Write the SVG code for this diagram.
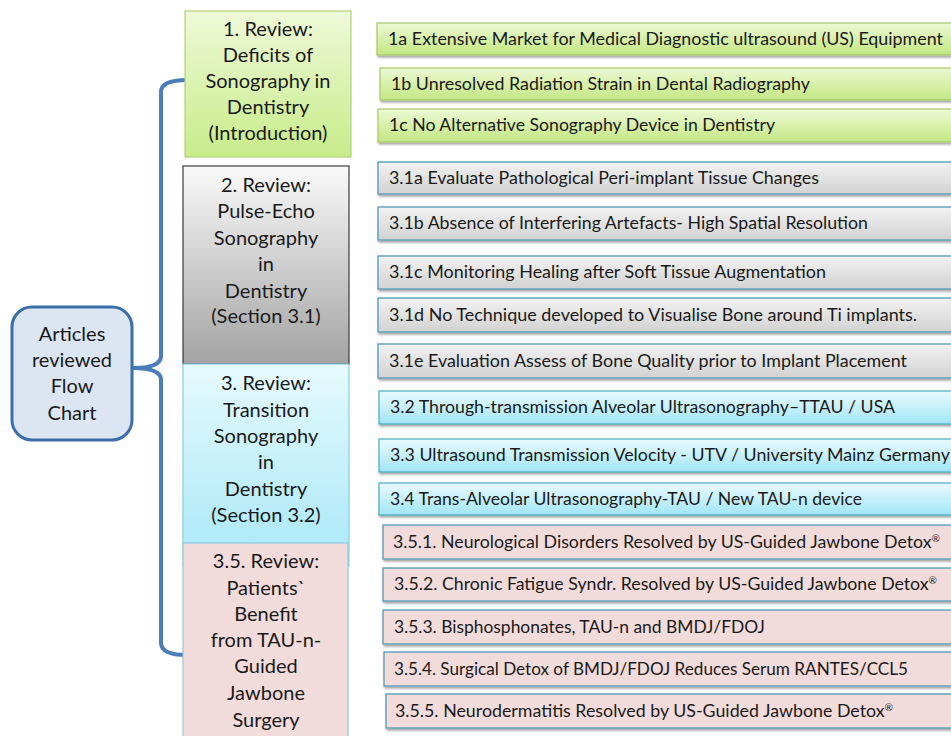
<svg xmlns="http://www.w3.org/2000/svg" width="951" height="736" viewBox="0 0 951 736">
<defs>
<linearGradient id="gGreenBig" x1="0" y1="0" x2="0" y2="1"><stop offset="0" stop-color="#eef9d8"/><stop offset="1" stop-color="#c8ec8a"/></linearGradient>
<linearGradient id="gGreen" x1="0" y1="0" x2="0" y2="1"><stop offset="0" stop-color="#edf9d5"/><stop offset="1" stop-color="#c3e782"/></linearGradient>
<linearGradient id="gGreyBig" x1="0" y1="0" x2="0" y2="1"><stop offset="0" stop-color="#fafafa"/><stop offset="1" stop-color="#a3a3a3"/></linearGradient>
<linearGradient id="gGrey" x1="0" y1="0" x2="0" y2="1"><stop offset="0" stop-color="#f2f2f2"/><stop offset="1" stop-color="#d2d2d2"/></linearGradient>
<linearGradient id="gCyanBig" x1="0" y1="0" x2="0" y2="1"><stop offset="0" stop-color="#e6fafe"/><stop offset="1" stop-color="#a8e8f8"/></linearGradient>
<linearGradient id="gCyan" x1="0" y1="0" x2="0" y2="1"><stop offset="0" stop-color="#eafbfe"/><stop offset="1" stop-color="#a2e5f6"/></linearGradient>
<filter id="sh" x="-5%" y="-20%" width="110%" height="150%"><feDropShadow dx="1" dy="2" stdDeviation="1.2" flood-color="#000" flood-opacity="0.35"/></filter>
</defs>
<style>
text{font-family:Lato,"Liberation Sans",sans-serif;fill:#1a1a1a}
.big{font-size:20px;text-anchor:middle}
.sm{font-size:17.5px}
.sup{font-size:10px}
.rg{fill:url(#gGreen);stroke:#a9c96c;stroke-width:1.2;filter:url(#sh)}
.rr{fill:url(#gGrey);stroke:#5d9fbd;stroke-width:1.4;filter:url(#sh)}
.rc{fill:url(#gCyan);stroke:#4aa8c4;stroke-width:1.2;filter:url(#sh)}
.rp{fill:#f2dcdb;stroke:#5f9fba;stroke-width:1.4;filter:url(#sh)}
</style>
<rect width="951" height="736" fill="#fff"/>

<g id="connectors">
<path d="M187,80 Q161,80 161,92 L161,356 Q161,368 133,368 Q161,368 161,380 L161,643 Q161,655 187,655" fill="none" stroke="#4a7ebb" stroke-width="4" stroke-linejoin="round"/>
</g>

<g id="root">
<rect x="12" y="307" width="120" height="133" rx="20" fill="#dce6f2" stroke="#3d6ea8" stroke-width="3"/>
<text class="big" x="72" y="341">Articles</text>
<text class="big" x="72" y="367">reviewed</text>
<text class="big" x="72" y="393">Flow</text>
<text class="big" x="72" y="420">Chart</text>
</g>

<g id="sec1">
<rect x="185" y="11" width="166" height="146" fill="url(#gGreenBig)" stroke="#b3d27c" stroke-width="1.2"/>
<text class="big" x="268" y="36">1. Review:</text>
<text class="big" x="268" y="62">Deficits of</text>
<text class="big" x="268" y="88">Sonography in</text>
<text class="big" x="268" y="114">Dentistry</text>
<text class="big" x="268" y="140">(Introduction)</text>
</g>

<g id="sec2">
<rect x="183" y="166" width="166" height="198" fill="url(#gGreyBig)" stroke="#3a3a3a" stroke-width="1.2"/>
<text class="big" x="266" y="192">2. Review:</text>
<text class="big" x="266" y="218">Pulse-Echo</text>
<text class="big" x="266" y="245">Sonography</text>
<text class="big" x="266" y="271">in</text>
<text class="big" x="266" y="298">Dentistry</text>
<text class="big" x="266" y="323">(Section 3.1)</text>
</g>

<g id="sec3">
<rect x="183" y="364" width="166" height="202" fill="url(#gCyanBig)" stroke="#86cde2" stroke-width="1.2"/>
<text class="big" x="266" y="390">3. Review:</text>
<text class="big" x="266" y="417">Transition</text>
<text class="big" x="266" y="443">Sonography</text>
<text class="big" x="266" y="469">in</text>
<text class="big" x="266" y="496">Dentistry</text>
<text class="big" x="266" y="522">(Section 3.2)</text>
</g>

<g id="sec35">
<rect x="183" y="543" width="165" height="200" fill="#f2dcdb" stroke="#8fcbe0" stroke-width="1.2"/>
<text class="big" x="266" y="568">3.5. Review:</text>
<text class="big" x="266" y="595">Patients`</text>
<text class="big" x="266" y="621">Benefit</text>
<text class="big" x="266" y="647">from TAU-n-</text>
<text class="big" x="266" y="673">Guided</text>
<text class="big" x="266" y="700">Jawbone</text>
<text class="big" x="266" y="727">Surgery</text>
</g>

<g id="n1a"><rect class="rg" x="377" y="23" width="590" height="32"/><text class="sm" x="388" y="45" textLength="555" lengthAdjust="spacingAndGlyphs">1a Extensive Market for Medical Diagnostic ultrasound (US) Equipment</text></g>
<g id="n1b"><rect class="rg" x="380" y="68" width="590" height="32"/><text class="sm" x="391" y="90" textLength="419" lengthAdjust="spacingAndGlyphs">1b Unresolved Radiation Strain in Dental Radiography</text></g>
<g id="n1c"><rect class="rg" x="378" y="109" width="590" height="33"/><text class="sm" x="389" y="131" textLength="386" lengthAdjust="spacingAndGlyphs">1c No Alternative Sonography Device in Dentistry</text></g>

<g id="n31a"><rect class="rr" x="378" y="162" width="590" height="32"/><text class="sm" x="389" y="184" textLength="430" lengthAdjust="spacingAndGlyphs">3.1a Evaluate Pathological Peri-implant Tissue Changes</text></g>
<g id="n31b"><rect class="rr" x="378" y="207" width="590" height="33"/><text class="sm" x="389" y="229" textLength="479" lengthAdjust="spacingAndGlyphs">3.1b Absence of Interfering Artefacts- High Spatial Resolution</text></g>
<g id="n31c"><rect class="rr" x="378" y="256" width="590" height="33"/><text class="sm" x="389" y="278" textLength="437" lengthAdjust="spacingAndGlyphs">3.1c Monitoring Healing after Soft Tissue Augmentation</text></g>
<g id="n31d"><rect class="rr" x="378" y="298" width="590" height="34"/><text class="sm" x="389" y="321" textLength="528" lengthAdjust="spacingAndGlyphs">3.1d No Technique developed to Visualise Bone around Ti implants.</text></g>
<g id="n31e"><rect class="rr" x="378" y="344" width="590" height="34"/><text class="sm" x="389" y="367" textLength="518" lengthAdjust="spacingAndGlyphs">3.1e Evaluation Assess of Bone Quality prior to  Implant Placement</text></g>

<g id="n32"><rect class="rc" x="379" y="391" width="590" height="33"/><text class="sm" x="390" y="413" textLength="505" lengthAdjust="spacingAndGlyphs">3.2 Through-transmission Alveolar Ultrasonography–TTAU / USA</text></g>
<g id="n33"><rect class="rc" x="379" y="439" width="590" height="33"/><text class="sm" x="390" y="461" textLength="560" lengthAdjust="spacingAndGlyphs">3.3 Ultrasound Transmission Velocity - UTV / University Mainz Germany</text></g>
<g id="n34"><rect class="rc" x="379" y="483" width="590" height="32"/><text class="sm" x="390" y="505" textLength="472" lengthAdjust="spacingAndGlyphs">3.4 Trans-Alveolar Ultrasonography-TAU / New TAU-n device</text></g>

<g id="n351"><rect class="rp" x="383" y="525" width="590" height="34"/><text class="sm" x="393" y="548" textLength="547" lengthAdjust="spacingAndGlyphs">3.5.1. Neurological Disorders Resolved by US-Guided Jawbone Detox<tspan class="sup" dy="-6">®</tspan></text></g>
<g id="n352"><rect class="rp" x="383" y="568" width="590" height="33"/><text class="sm" x="394" y="590" textLength="543" lengthAdjust="spacingAndGlyphs">3.5.2. Chronic Fatigue Syndr. Resolved by US-Guided Jawbone Detox<tspan class="sup" dy="-6">®</tspan></text></g>
<g id="n353"><rect class="rp" x="383" y="610" width="590" height="34"/><text class="sm" x="394" y="633" textLength="371" lengthAdjust="spacingAndGlyphs">3.5.3. Bisphosphonates, TAU-n and BMDJ/FDOJ</text></g>
<g id="n354"><rect class="rp" x="384" y="652" width="590" height="34"/><text class="sm" x="394" y="675" textLength="514" lengthAdjust="spacingAndGlyphs">3.5.4. Surgical Detox of BMDJ/FDOJ Reduces Serum RANTES/CCL5</text></g>
<g id="n355"><rect class="rp" x="386" y="694" width="590" height="34"/><text class="sm" x="395" y="717" textLength="498" lengthAdjust="spacingAndGlyphs">3.5.5. Neurodermatitis Resolved by US-Guided Jawbone Detox<tspan class="sup" dy="-6">®</tspan></text></g>
</svg>
